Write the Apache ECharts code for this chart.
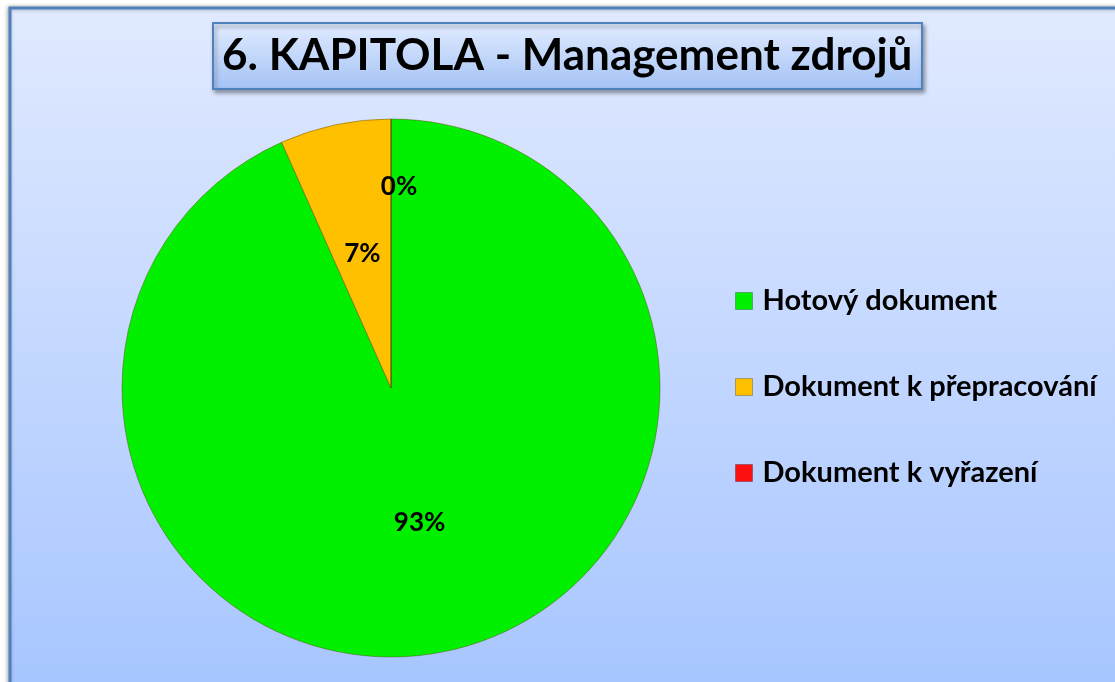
<!DOCTYPE html>
<html>
<head>
<meta charset="utf-8">
<script src="https://cdn.jsdelivr.net/npm/echarts@6/dist/echarts.min.js"></script>
<style>
  html, body { margin: 0; padding: 0; background: #ffffff; }
  #chart { width: 1115px; height: 682px; }
</style>
</head>
<body>
<div id="chart"></div>
<script>
const categories = ["Hotový dokument", "Dokument k přepracování", "Dokument k vyřazení"];
const counts = [14, 1, 0];
const colors = ["#00f000", "#ffc000", "#ff1010"];

const chart = echarts.init(document.getElementById("chart"));

const pieData = categories.map((name, i) => {
  const item = {
    name: name,
    value: counts[i],
    itemStyle: { color: colors[i] },
  };
  // Excel put the empty slice's label higher up
  if (counts[i] === 0) {
    item.label = { offset: [8, -64] };
  }
  return item;
});

const options = {
  animation: false,
  graphic: [
    {
      type: "rect",
      z: -10,
      shape: { x: 10, y: 8, width: 1120, height: 690 },
      style: {
        fill: new echarts.graphic.LinearGradient(0, 0, 0, 1, [
          { offset: 0, color: "#e1eaff" },
          { offset: 1, color: "#a6c5ff" },
        ]),
        stroke: "#4f81bd",
        lineWidth: 3,
        shadowBlur: 4,
        shadowColor: "rgba(0,0,0,0.3)",
        shadowOffsetX: -1,
      },
    },
  ],
  title: {
    text: "6. KAPITOLA - Management zdrojů",
    left: 213,
    top: 23,
    padding: [11, 10, 11, 9],
    backgroundColor: new echarts.graphic.LinearGradient(0, 0, 0, 1, [
      { offset: 0, color: "#e2ecff" },
      { offset: 1, color: "#a3c2f5" },
    ]),
    borderColor: "#4f81bd",
    borderWidth: 2,
    shadowBlur: 4,
    shadowColor: "rgba(0,0,0,0.35)",
    shadowOffsetX: 2,
    shadowOffsetY: 3,
    textStyle: {
      fontFamily: "Lato",
      fontWeight: "bold",
      fontSize: 44,
      color: "#000000",
    },
  },
  legend: {
    orient: "vertical",
    left: 730,
    top: 279,
    itemWidth: 17,
    itemHeight: 17,
    itemGap: 52,
    icon: "rect",
    itemStyle: { borderColor: "rgba(0,0,0,0.25)", borderWidth: 1 },
    textStyle: {
      fontFamily: "Lato",
      fontWeight: "bold",
      fontSize: 29,
      lineHeight: 34,
      padding: [0, 0, 0, 5],
      color: "#000000",
    },
    data: categories,
  },
  series: [
    {
      type: "pie",
      center: [391, 388],
      radius: 269,
      startAngle: 90,
      clockwise: true,
      avoidLabelOverlap: false,
      itemStyle: {
        borderColor: "rgba(90,70,0,0.45)",
        borderWidth: 1,
      },
      label: {
        show: true,
        position: "inside",
        formatter: (p) => Math.round(p.percent) + "%",
        fontFamily: "Lato",
        fontWeight: "bold",
        fontSize: 26,
        color: "#000000",
      },
      labelLine: { show: false },
      emphasis: { disabled: true },
      data: pieData,
    },
  ],
};

chart.setOption(options);
</script>
</body>
</html>
